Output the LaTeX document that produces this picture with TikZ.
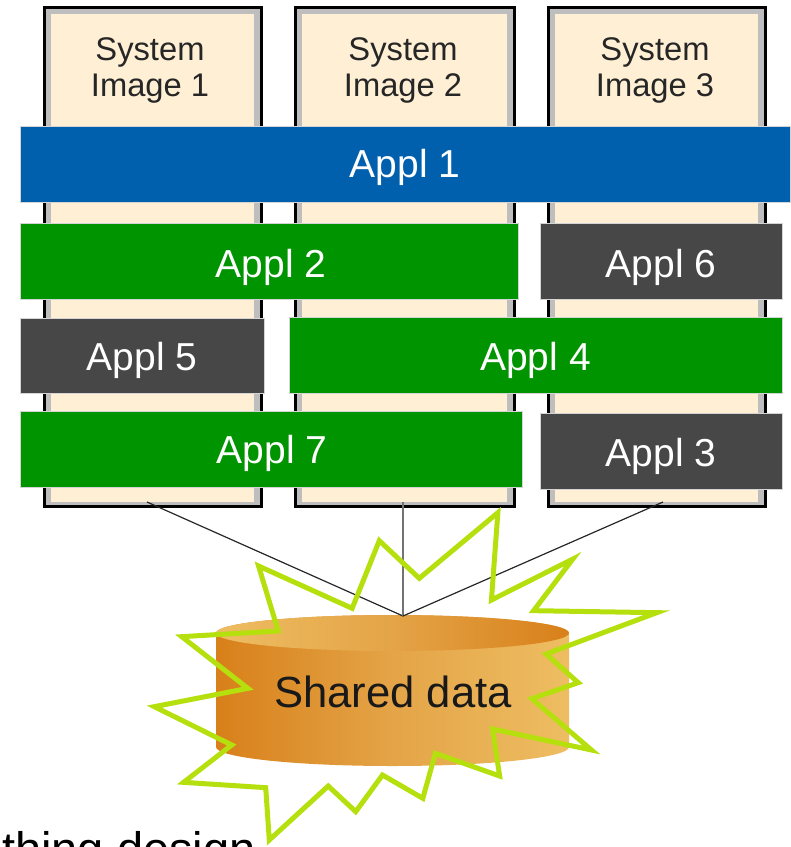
\documentclass[tikz,border=0pt]{standalone}
\usepackage{fontspec}
\setmainfont{Liberation Sans}
\definecolor{bluebar}{HTML}{0060AE}
\definecolor{greenbar}{HTML}{009500}
\definecolor{darkbar}{HTML}{474747}
\definecolor{cream}{HTML}{FFF0D5}
\definecolor{wall}{HTML}{BEBEBE}
\definecolor{lime}{HTML}{B5E00E}
\definecolor{barline}{HTML}{D4D4D4}
\definecolor{cylA}{HTML}{D8801A}
\definecolor{cylB}{HTML}{E4A447}
\definecolor{cylC}{HTML}{EEBD62}
\newcommand{\rnode}[7]{\node[#2,minimum width={(#5-#3)*1pt},minimum height={(#6-#4)*1pt}] (#1) at ({(#3+#5)/2},{(#4+#6)/2}) {#7};}
\newcommand{\alab}[2]{\smash{\raisebox{-#1pt}{#2}}}
\tikzset{
  outerbox/.style={draw=black,line width=3pt,fill=wall,inner sep=0pt,outer sep=0pt},
  innerbox/.style={fill=cream,inner sep=0pt,outer sep=0pt},
  bar/.style={draw=barline,line width=0.8pt,inner sep=0pt,outer sep=0pt,text=white,font=\fontsize{39}{42}\selectfont},
  bluebox/.style={bar,fill=bluebar},
  greenbox/.style={bar,fill=greenbar},
  darkbox/.style={bar,fill=darkbar},
  syslabel/.style={align=center,text=black!85,inner sep=0pt,font=\fontsize{32.7}{36.5}\selectfont},
  wire/.style={draw=black!85,line width=1.2pt},
  burst/.style={draw=lime,line width=5pt,miter limit=10,line join=miter}
}
\begin{document}
\begin{tikzpicture}[x=1pt,y=-1pt]
\useasboundingbox (0,0) rectangle (791,847);
\clip (0,0) rectangle (791,847);
% system images
\rnode{sys1o}{outerbox}{44}{7}{261}{506}{}
\rnode{sys1i}{innerbox}{51}{14}{254}{502}{}
\rnode{sys2o}{outerbox}{295}{7}{514}{506}{}
\rnode{sys2i}{innerbox}{302}{14}{507}{502}{}
\rnode{sys3o}{outerbox}{548}{7}{765}{506}{}
\rnode{sys3i}{innerbox}{555}{14}{758}{502}{}
\node[syslabel] (lab1) at (150,70.5) {System\\Image 1};
\node[syslabel] (lab2) at (403,70.5) {System\\Image 2};
\node[syslabel] (lab3) at (655,70.5) {System\\Image 3};
% application bars
\rnode{a1}{bluebox}{20}{126}{790}{202}{\alab{13}{Appl 1}}
\rnode{a2}{greenbox}{20}{223}{518}{299}{\hspace*{4pt}\alab{16}{Appl 2}}
\rnode{a6}{darkbox}{540}{223}{782}{299}{\alab{16}{Appl 6}}
\rnode{a5}{darkbox}{20}{318}{264}{393}{\alab{14.5}{Appl 5}}
\rnode{a4}{greenbox}{289}{317}{782}{393}{\alab{15}{Appl 4}}
\rnode{a7}{greenbox}{20}{411}{522}{487}{\hspace*{2pt}\alab{14}{Appl 7}}
\rnode{a3}{darkbox}{540}{413}{782}{489}{\alab{15}{Appl 3}}
% cylinder
\path[left color=cylA,right color=cylC,middle color=cylB]
  (216,633) -- (216,747) arc[start angle=180,end angle=0,x radius=176.5,y radius=19] -- (569,633)
  arc[start angle=0,end angle=-180,x radius=176.5,y radius=18] -- cycle;
\path[left color=cylC,right color=cylA,middle color=cylB]
  (392.5,633) ellipse[x radius=176.5,y radius=18];
\node[inner sep=0pt,text=black!90,font=\fontsize{43.6}{46}\selectfont] (data) at (393,692) {Shared data};
\coordinate (hub) at (403,616);
\coordinate (c1) at (147,502);
\coordinate (c2) at (403,502);
\coordinate (c3) at (663,502);
\draw[wire] (c1) -- (hub);
\draw[wire,draw=black!55,line width=1.5pt] (c2) -- (hub);
\draw[wire] (c3) -- (hub);
% burst
\begin{scope}[shift={(130,490)},x=0.35714pt,y=-0.33333pt]
\draw[burst] (1030,68) -- (1012,330) -- (1240,207) -- (1130,362) -- (1475,368) -- (1165,492)
  -- (1255,578) -- (1125,626) -- (1292,780) -- (1015,717) -- (1035,858) -- (855,790)
  -- (820,925) -- (707,855) -- (632,965) -- (555,888) -- (390,1050) -- (380,893)
  -- (150,877) -- (285,765) -- (68,650) -- (330,595) -- (145,440) -- (415,423)
  -- (360,228) -- (622,355) -- (698,152) -- (810,265) -- cycle;
\end{scope}
\node[anchor=base west,inner sep=0pt,text=black,font=\fontsize{47}{50}\selectfont] (caption) at (2,865) {thing design};
\end{tikzpicture}
\end{document}
